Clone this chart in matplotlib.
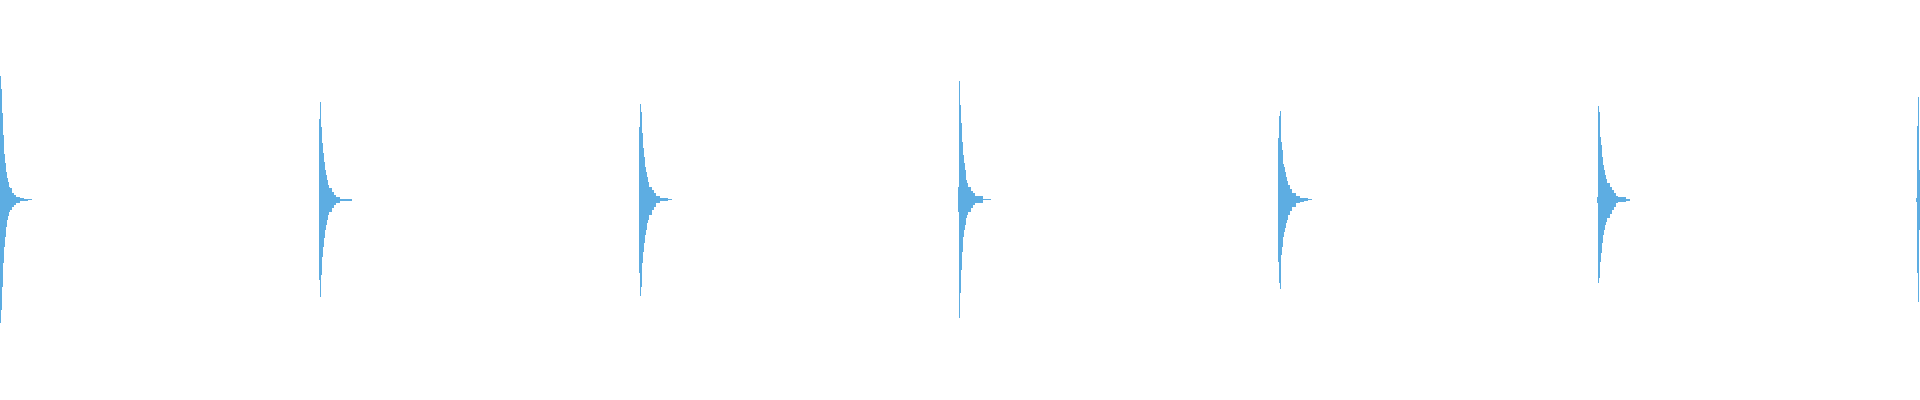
#! /bin/env python3


import matplotlib
matplotlib.use('Agg')
import matplotlib.pyplot as plt

# onset of each hit, in seconds
ONSETS = [0.0, 0.5, 1.0, 1.4984, 2.0, 2.4969, 2.9969]

# offsets from the onset where the envelope steps, in ms
OFFSETS_MS = [-3.1, -1.6, 0.0, 1.6, 3.1, 4.7, 6.3, 7.8, 9.4, 10.9, 12.5,
              14.1, 15.6, 18.8, 21.9, 25.0, 28.1, 31.3, 37.5, 43.8, 50.0]

# upper envelope of each hit (amplitude, full scale = 1)
TOP_1 = [0.0, 0.62, 0.62, 0.555, 0.435, 0.325, 0.23, 0.185, 0.14, 0.11, 0.09,
         0.065, 0.06, 0.035, 0.025, 0.015, 0.015, 0.01, 0.005, 0.004, 0.0]
TOP_2 = [0.0, 0.405, 0.49, 0.365, 0.285, 0.235, 0.19, 0.15, 0.125, 0.10, 0.075,
         0.06, 0.06, 0.04, 0.025, 0.015, 0.015, 0.005, 0.005, 0.003, 0.0]
TOP_3 = [0.0, 0.365, 0.48, 0.44, 0.335, 0.26, 0.215, 0.165, 0.14, 0.115, 0.09,
         0.065, 0.065, 0.05, 0.035, 0.02, 0.02, 0.01, 0.01, 0.005, 0.0]
TOP_4 = [0.0, 0.065, 0.595, 0.475, 0.385, 0.29, 0.225, 0.185, 0.15, 0.10, 0.085,
         0.065, 0.065, 0.045, 0.035, 0.02, 0.02, 0.02, 0.005, 0.005, 0.0]
TOP_5 = [0.31, 0.42, 0.445, 0.29, 0.25, 0.18, 0.165, 0.14, 0.115, 0.095, 0.075,
         0.075, 0.055, 0.035, 0.035, 0.02, 0.02, 0.01, 0.01, 0.005, 0.0]
TOP_6 = [0.0, 0.015, 0.47, 0.44, 0.315, 0.275, 0.215, 0.175, 0.15, 0.125, 0.105,
         0.085, 0.085, 0.065, 0.05, 0.035, 0.02, 0.015, 0.015, 0.005, 0.0]
TOP_7 = [0.01, 0.37, 0.515, 0.15, 0.28, 0.23, 0.19, 0.15, 0.125, 0.10, 0.075,
         0.06, 0.06, 0.04, 0.025, 0.015, 0.015, 0.005, 0.005, 0.003, 0.0]

# lower envelope of each hit
BOT_1 = [0.0, -0.615, -0.615, -0.55, -0.435, -0.315, -0.235, -0.185, -0.135, -0.10, -0.08,
         -0.06, -0.05, -0.035, -0.025, -0.015, -0.015, -0.005, -0.003, -0.002, 0.0]
BOT_2 = [0.0, -0.40, -0.485, -0.375, -0.285, -0.235, -0.19, -0.15, -0.125, -0.10, -0.075,
         -0.06, -0.06, -0.04, -0.025, -0.015, -0.015, -0.005, -0.005, -0.003, 0.0]
BOT_3 = [0.0, -0.365, -0.48, -0.435, -0.315, -0.26, -0.215, -0.175, -0.15, -0.115, -0.10,
         -0.075, -0.075, -0.05, -0.035, -0.015, -0.015, -0.005, -0.005, -0.002, 0.0]
BOT_4 = [0.0, -0.06, -0.59, -0.465, -0.35, -0.26, -0.185, -0.15, -0.125, -0.09, -0.075,
         -0.06, -0.06, -0.04, -0.025, -0.015, -0.015, -0.015, -0.002, -0.002, 0.0]
BOT_5 = [-0.31, -0.415, -0.445, -0.275, -0.235, -0.185, -0.16, -0.14, -0.115, -0.10, -0.075,
         -0.075, -0.055, -0.035, -0.035, -0.015, -0.015, -0.01, -0.005, -0.002, 0.0]
BOT_6 = [0.0, -0.015, -0.415, -0.39, -0.31, -0.265, -0.215, -0.175, -0.15, -0.125, -0.11,
         -0.09, -0.09, -0.07, -0.05, -0.035, -0.015, -0.01, -0.01, -0.003, 0.0]
BOT_7 = [-0.01, -0.365, -0.51, -0.15, -0.28, -0.23, -0.19, -0.15, -0.125, -0.10, -0.075,
         -0.06, -0.06, -0.04, -0.025, -0.015, -0.015, -0.005, -0.005, -0.003, 0.0]

TOPS = [TOP_1, TOP_2, TOP_3, TOP_4, TOP_5, TOP_6, TOP_7]
BOTS = [BOT_1, BOT_2, BOT_3, BOT_4, BOT_5, BOT_6, BOT_7]

WAVE_COLOR = '#5dade2'


def _main():
    fig = plt.figure(figsize=(19.2, 4.0), dpi=100)
    axis = fig.add_axes([0, 0, 1, 1])

    for onset, top, bot in zip(ONSETS, TOPS, BOTS):
        times = [onset + off * 0.001 for off in OFFSETS_MS]
        axis.fill_between(times, bot, top, step='post', color=WAVE_COLOR,
                          linewidth=0, antialiased=False)

    axis.set_xlim(0, 3.0)
    axis.set_ylim(-1, 1)
    axis.axis('off')

    fig.savefig('out.png', dpi=100, facecolor='white')


if __name__ == "__main__":
    _main()
